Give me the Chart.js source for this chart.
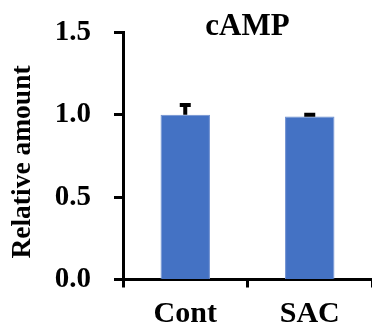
<!DOCTYPE html>
<html>
<head>
<meta charset="utf-8">
<script src="https://cdn.jsdelivr.net/npm/chart.js@4"></script>
<style>
    html, body { margin: 0; padding: 0; background: #ffffff; }
    #wrap { width: 372px; height: 331px; }
</style>
</head>
<body>
<div id="wrap"><canvas id="campChart" width="372" height="331"></canvas></div>
<script>
// Chart data
const groups = ['Cont', 'SAC'];
const meanValues = [1.0, 0.99];
const errorValues = [0.06, 0.01];
const yTicks = [0, 0.5, 1.0, 1.5];
const chartTitle = 'cAMP';
const yAxisTitle = 'Relative amount';

const serif = "'Liberation Serif', 'Times New Roman', serif";

// Draws upward-only error bars (T shape) above each bar
const errorBarPlugin = {
    id: 'errorBars',
    afterDatasetsDraw(chart) {
        const ctx = chart.ctx;
        const y = chart.scales.y;
        const meta = chart.getDatasetMeta(0);
        ctx.save();
        ctx.strokeStyle = '#000000';
        ctx.lineWidth = 4;
        meta.data.forEach((bar, i) => {
            const top = y.getPixelForValue(meanValues[i] + errorValues[i]);
            const base = y.getPixelForValue(meanValues[i]);
            ctx.beginPath();
            ctx.moveTo(bar.x, base);
            ctx.lineTo(bar.x, top);
            ctx.moveTo(bar.x - 5.5, top);
            ctx.lineTo(bar.x + 5.5, top);
            ctx.stroke();
        });
        ctx.restore();
    }
};

// Chart title over the plot area and the rotated y axis title
const textPlugin = {
    id: 'chartTexts',
    afterDraw(chart) {
        const ctx = chart.ctx;
        const area = chart.chartArea;
        ctx.save();
        ctx.fillStyle = '#000000';
        ctx.font = 'bold 31px ' + serif;
        ctx.textAlign = 'center';
        ctx.textBaseline = 'alphabetic';
        ctx.fillText(chartTitle, (area.left + area.right) / 2, 35);

        ctx.font = 'bold 27.5px ' + serif;
        ctx.textBaseline = 'middle';
        ctx.translate(23, 162);
        ctx.rotate(-Math.PI / 2);
        ctx.fillText(yAxisTitle, 0, 0);
        ctx.restore();
    }
};

new Chart(document.getElementById('campChart'), {
    type: 'bar',
    data: {
        labels: groups,
        datasets: [{
            data: meanValues,
            backgroundColor: '#4472C4',
            borderColor: '#6d8fd0',
            borderWidth: 1,
            barPercentage: 0.397,
            categoryPercentage: 1.0
        }]
    },
    options: {
        responsive: false,
        animation: false,
        layout: {
            padding: { top: 32.5, right: -3, bottom: 0, left: 0 }
        },
        plugins: {
            legend: { display: false },
            tooltip: { enabled: false },
            title: { display: false }
        },
        scales: {
            x: {
                afterFit: scale => {
                    scale.height = 51.5;
                    scale.paddingLeft = 0;
                    scale.paddingRight = 0;
                },
                grid: {
                    offset: true,
                    drawOnChartArea: false,
                    drawTicks: true,
                    tickLength: 8,
                    tickWidth: 3,
                    tickColor: '#000000'
                },
                border: { display: true, color: '#000000', width: 3 },
                ticks: {
                    color: '#000000',
                    padding: 12,
                    font: { family: serif, size: 30, weight: 'bold', lineHeight: 1.0 }
                }
            },
            y: {
                min: 0,
                max: 1.5,
                afterFit: scale => {
                    scale.width = 123;
                    scale.paddingTop = 0;
                    scale.paddingBottom = 0;
                },
                afterBuildTicks: scale => {
                    scale.ticks = yTicks.map(v => ({ value: v }));
                },
                grid: {
                    drawOnChartArea: false,
                    drawTicks: true,
                    tickLength: 9,
                    tickWidth: 3,
                    tickColor: '#000000'
                },
                border: { display: true, color: '#000000', width: 3 },
                ticks: {
                    color: '#000000',
                    padding: 23,
                    font: { family: serif, size: 29, weight: 'bold' },
                    callback: value => Number(value).toFixed(1)
                }
            }
        }
    },
    plugins: [errorBarPlugin, textPlugin]
});
</script>
</body>
</html>
